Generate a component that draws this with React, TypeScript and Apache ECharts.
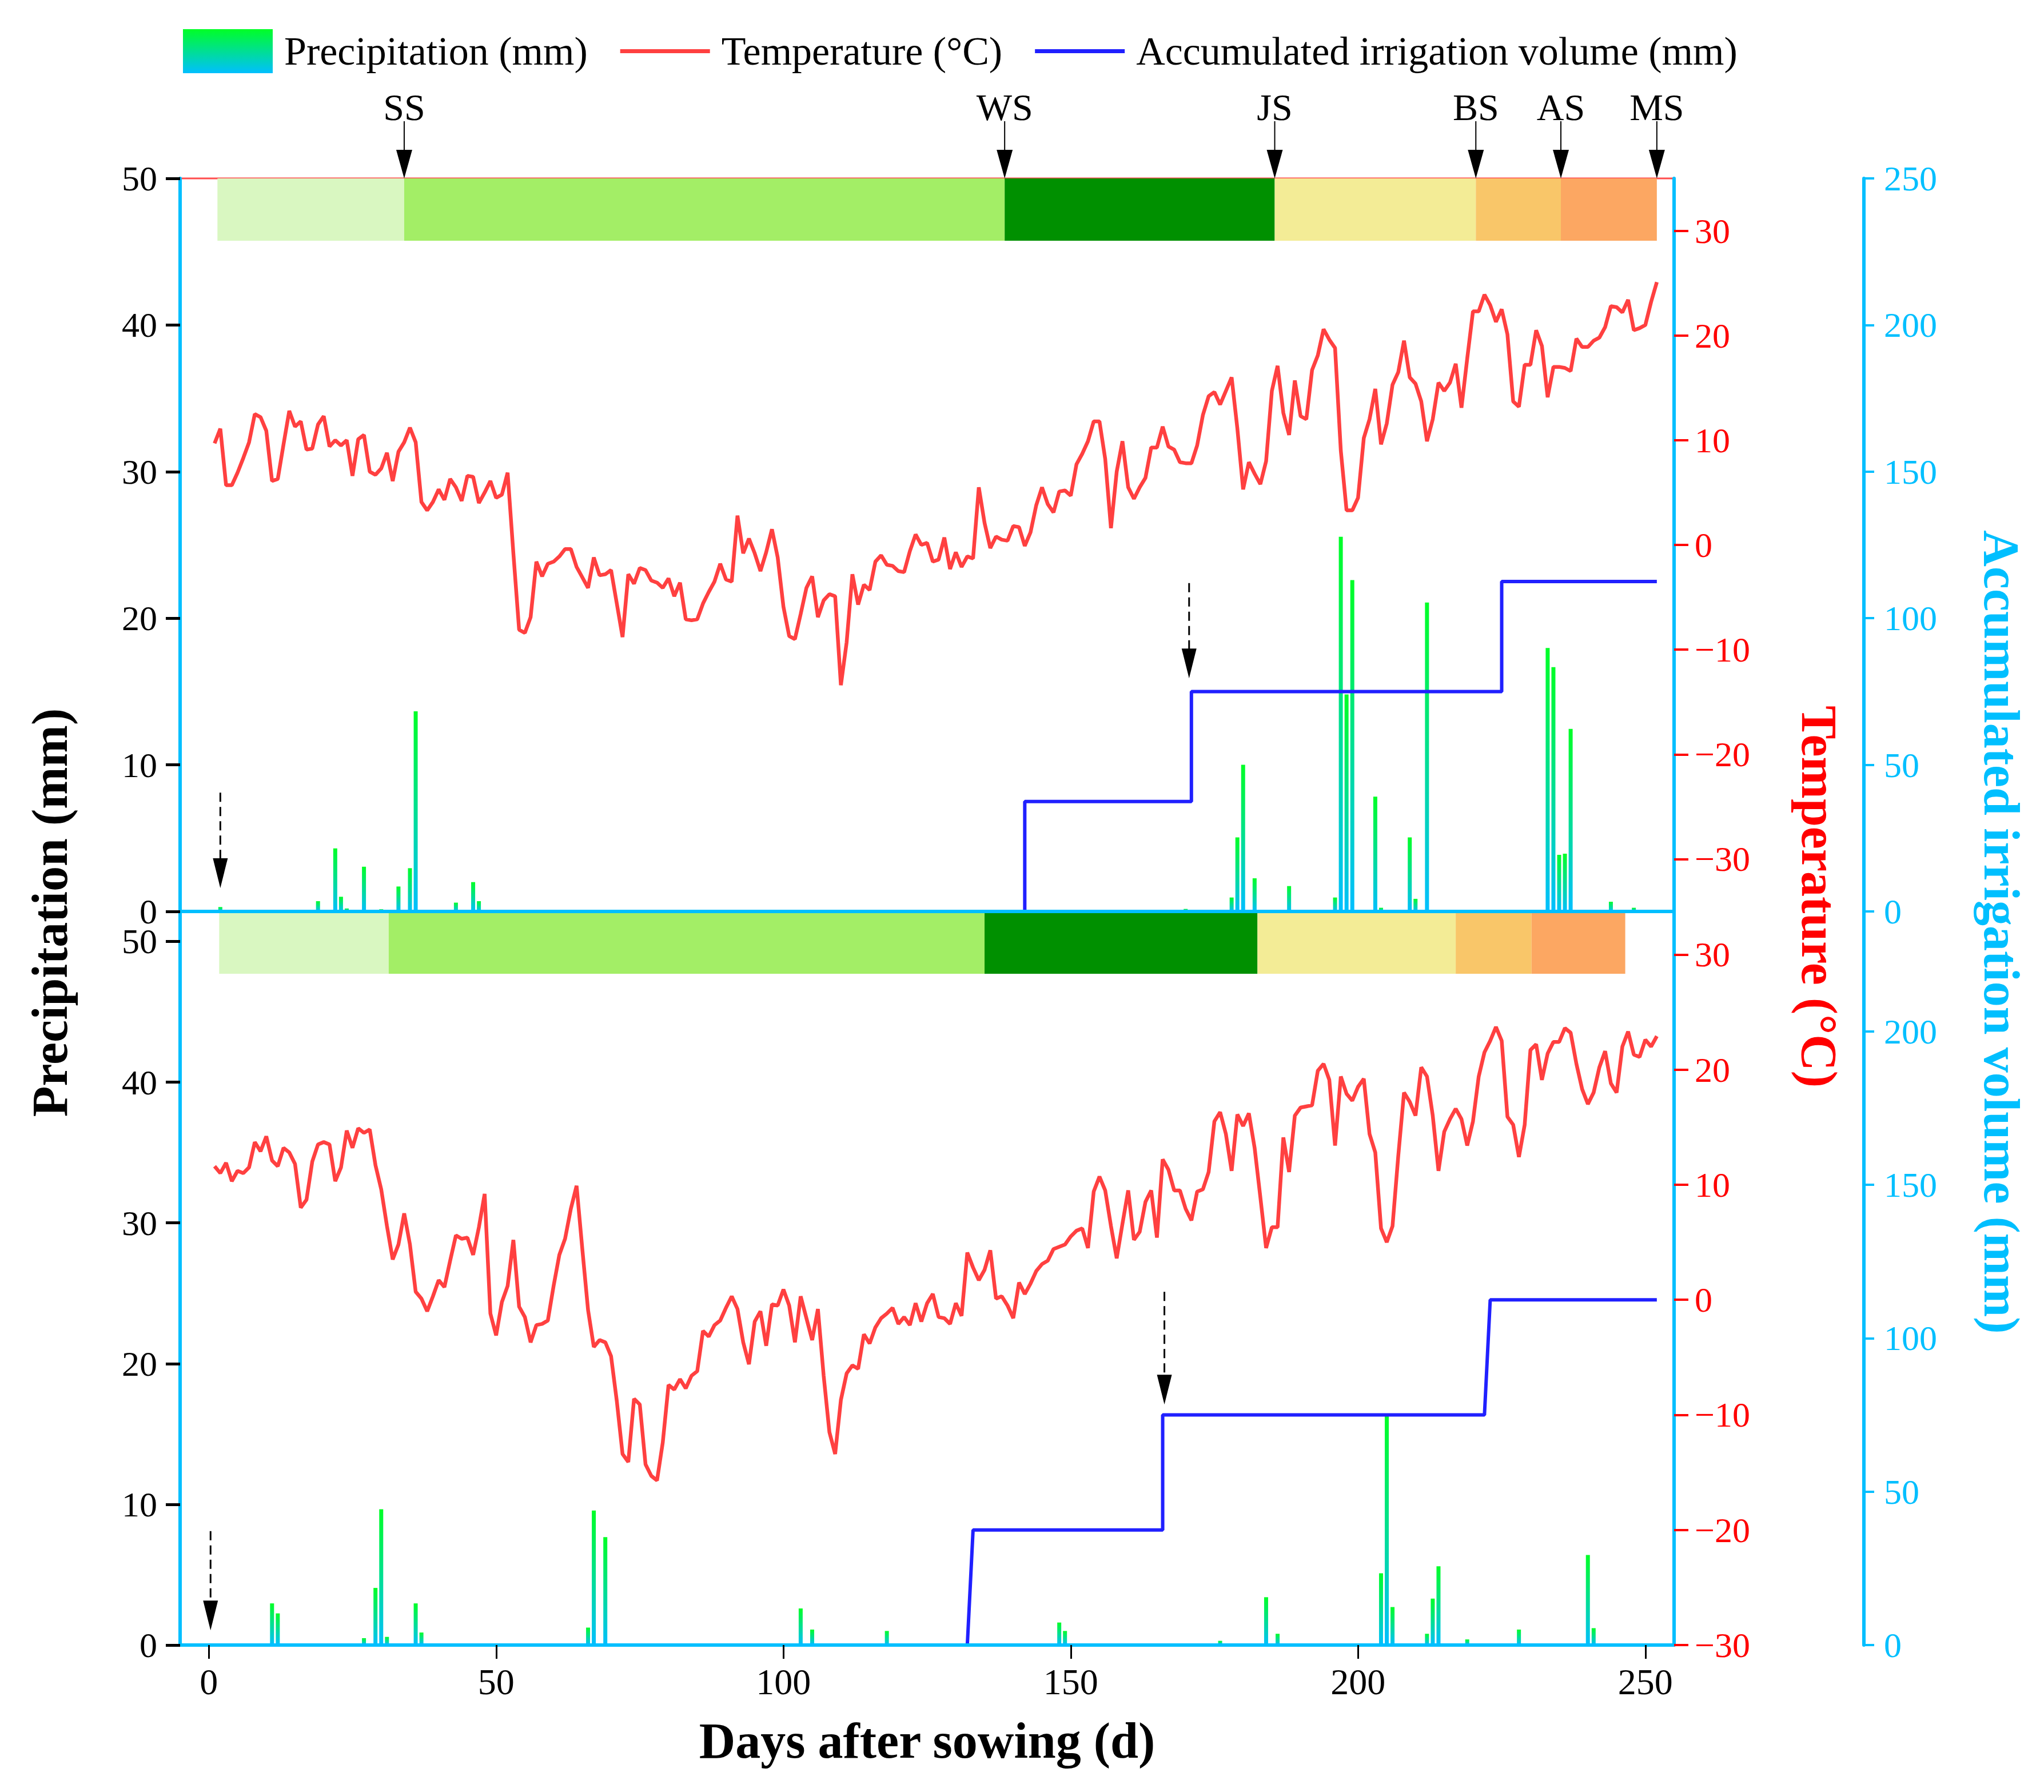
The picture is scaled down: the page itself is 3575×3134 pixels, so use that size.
import React, { useEffect, useRef } from 'react';
import * as echarts from 'echarts';

const FONT = "'Liberation Serif', 'Times New Roman', serif";

// daily mean temperature (°C), day 1..252, upper panel
const tempTop = [
  9.7, 11.1, 5.7, 5.7, 6.9, 8.3, 9.8, 12.5, 12.2, 10.9,
  6.1, 6.3, 9.6, 12.8, 11.3, 11.8, 9.1, 9.2, 11.5, 12.3,
  9.4, 10.0, 9.5, 10.0, 6.6, 10.1, 10.5, 7.0, 6.7, 7.3,
  8.8, 6.1, 8.9, 9.8, 11.2, 9.8, 4.1, 3.3, 4.1, 5.3,
  4.3, 6.3, 5.5, 4.2, 6.6, 6.5, 4.0, 5.0, 6.1, 4.5,
  4.8, 6.9, -0.8, -8.1, -8.4, -6.9, -1.6, -3.0, -1.8, -1.6,
  -1.1, -0.4, -0.4, -2.1, -3.1, -4.1, -1.2, -2.9, -2.8, -2.4,
  -5.6, -8.8, -2.8, -3.7, -2.2, -2.4, -3.4, -3.6, -4.1, -3.2,
  -4.9, -3.6, -7.1, -7.2, -7.1, -5.6, -4.5, -3.5, -1.8, -3.3,
  -3.5, 2.8, -0.8, 0.6, -0.8, -2.5, -0.7, 1.5, -1.2, -5.9,
  -8.7, -9.0, -6.6, -4.1, -3.0, -6.9, -5.3, -4.7, -4.9, -13.4,
  -9.3, -2.8, -5.7, -3.8, -4.3, -1.6, -1.0, -1.9, -2.0, -2.5,
  -2.6, -0.6, 1.0, 0.0, 0.2, -1.6, -1.4, 0.7, -2.3, -0.7,
  -2.1, -1.1, -1.3, 5.5, 2.1, -0.3, 0.8, 0.5, 0.4, 1.8,
  1.7, -0.1, 1.2, 3.8, 5.5, 3.9, 3.1, 5.1, 5.2, 4.7,
  7.7, 8.7, 9.9, 11.8, 11.8, 8.2, 1.6, 7.0, 9.9, 5.5,
  4.4, 5.5, 6.4, 9.3, 9.3, 11.3, 9.4, 9.1, 7.9, 7.8,
  7.8, 9.5, 12.4, 14.2, 14.6, 13.4, 14.7, 16.0, 11.1, 5.3,
  7.9, 6.8, 5.8, 8.0, 14.7, 17.1, 12.6, 10.5, 15.7, 12.3,
  12.0, 16.7, 18.1, 20.6, 19.6, 18.8, 9.0, 3.3, 3.3, 4.5,
  10.2, 12.0, 14.9, 9.6, 11.6, 15.3, 16.5, 19.5, 16.0, 15.4,
  13.7, 9.9, 12.0, 15.5, 14.7, 15.5, 17.3, 13.1, 17.8, 22.3,
  22.3, 23.9, 22.9, 21.3, 22.5, 20.1, 13.7, 13.2, 17.2, 17.2,
  20.5, 19.0, 14.1, 17.0, 17.0, 16.9, 16.6, 19.7, 18.9, 18.9,
  19.5, 19.8, 20.8, 22.8, 22.7, 22.2, 23.4, 20.5, 20.7, 21.0,
  23.2, 25.1,
];

// daily mean temperature (°C), day 1..252, lower panel
const tempBottom = [
  11.6, 11.0, 11.9, 10.3, 11.2, 11.0, 11.5, 13.7, 12.9, 14.2,
  12.1, 11.6, 13.2, 12.8, 11.8, 8.0, 8.7, 12.0, 13.5, 13.7,
  13.5, 10.3, 11.5, 14.7, 13.2, 14.9, 14.5, 14.8, 11.7, 9.6,
  6.4, 3.5, 4.8, 7.5, 4.8, 0.7, 0.1, -1.0, 0.3, 1.7,
  1.1, 3.4, 5.6, 5.3, 5.4, 3.9, 6.3, 9.2, -1.2, -3.1,
  -0.2, 1.2, 5.2, -0.6, -1.5, -3.7, -2.2, -2.1, -1.8, 1.2,
  3.9, 5.3, 7.9, 9.9, 4.4, -0.9, -4.1, -3.5, -3.7, -4.9,
  -8.8, -13.4, -14.1, -8.6, -9.1, -14.3, -15.3, -15.7, -12.4, -7.4,
  -7.8, -6.9, -7.7, -6.6, -6.2, -2.7, -3.2, -2.2, -1.8, -0.7,
  0.3, -0.8, -3.7, -5.6, -1.9, -1.0, -4.0, -0.4, -0.5, 0.9,
  -0.5, -3.7, 0.3, -1.6, -3.5, -0.8, -6.6, -11.5, -13.4, -8.7,
  -6.4, -5.7, -6.0, -3.0, -3.8, -2.4, -1.6, -1.2, -0.7, -2.1,
  -1.5, -2.2, -0.3, -1.9, -0.3, 0.5, -1.5, -1.6, -2.1, -0.3,
  -1.4, 4.1, 2.8, 1.7, 2.6, 4.3, 0.1, 0.3, -0.5, -1.6,
  1.5, 0.5, 1.4, 2.5, 3.1, 3.4, 4.4, 4.6, 4.8, 5.5,
  6.0, 6.2, 4.5, 9.4, 10.7, 9.5, 6.4, 3.6, 6.6, 9.5,
  5.2, 5.9, 8.5, 9.5, 5.4, 12.2, 11.3, 9.5, 9.5, 7.9,
  6.9, 9.4, 9.6, 11.1, 15.5, 16.3, 14.4, 11.2, 16.1, 15.1,
  16.2, 13.2, 8.9, 4.5, 6.3, 6.3, 14.1, 11.1, 16.0, 16.7,
  16.8, 16.9, 19.9, 20.5, 19.1, 13.4, 19.4, 17.9, 17.3, 18.5,
  19.2, 14.4, 12.8, 6.2, 5.0, 6.4, 12.5, 18.0, 17.2, 16.0,
  20.2, 19.4, 16.0, 11.2, 14.6, 15.7, 16.6, 15.7, 13.4, 15.5,
  19.4, 21.5, 22.5, 23.7, 22.5, 15.9, 15.2, 12.4, 15.2, 21.7,
  22.2, 19.1, 21.4, 22.4, 22.4, 23.6, 23.2, 20.5, 18.3, 17.0,
  18.0, 20.2, 21.6, 18.8, 18.0, 22.0, 23.3, 21.3, 21.1, 22.6,
  22.0, 22.9,
];

// [day, precipitation mm]
const precipTop = [
  [2, 0.3], [19, 0.7], [22, 4.3], [23, 1.0], [24, 0.2], [27, 3.05], [30, 0.15],
  [33, 1.7], [35, 2.95], [36, 13.65], [43, 0.6], [46, 2.0], [47, 0.7], [52, 0.1],
  [170, 0.17], [178, 0.95], [179, 5.05], [180, 10.0], [182, 2.26], [188, 1.73],
  [196, 0.95], [197, 25.56], [198, 14.8], [199, 22.6], [203, 7.83], [204, 0.25],
  [209, 5.05], [210, 0.86], [212, 21.07], [233, 17.97], [234, 16.66], [235, 3.86],
  [236, 3.94], [237, 12.45], [244, 0.66], [248, 0.25],
];
const precipBottom = [
  [11, 2.96], [12, 2.25], [27, 0.49], [29, 4.06], [30, 9.65], [31, 0.58], [36, 2.96],
  [37, 0.89], [40, 0.05], [43, 0.05], [44, 0.05], [51, 0.05], [65, 0.05], [66, 1.24],
  [67, 9.56], [69, 7.67], [95, 0.1], [103, 2.6], [105, 1.1], [118, 1.0], [148, 1.6],
  [149, 1.0], [176, 0.3], [184, 3.4], [186, 0.8], [204, 5.1], [205, 16.3], [206, 2.7],
  [212, 0.8], [213, 3.3], [214, 5.6], [219, 0.4], [228, 1.1], [240, 6.4], [241, 1.2],
];

// [day, accumulated irrigation mm]
const irrigTop = [
  [1, 0], [142, 0], [142, 37.5], [171, 37.5], [171, 75], [225, 75], [225, 112.5], [252, 112.5],
];
const irrigBottom = [
  [1, 0], [132, 0], [133, 37.5], [166, 37.5], [166, 75], [222, 75], [223, 112.5], [252, 112.5],
];

// growth stage boundaries (days)
const stageEdgesTop = [1.5, 34, 138.5, 185.5, 220.5, 235.3, 252];
const stageEdgesBottom = [1.8, 31.3, 135, 182.5, 217, 230.2, 246.5];
const stageColors = ['#D9F7C1', '#A3EE66', '#009000', '#F3EC96', '#F9C669', '#FCA762'];
const stageNames = ['SS', 'WS', 'JS', 'BS', 'AS', 'MS'];

// irrigation event arrows: [day, top of stem mm, tip mm]
const eventArrowsTop = [[2, 8.1, 1.6], [170.6, 22.4, 15.9]];
const eventArrowsBottom = [[0.3, 8.1, 1.05], [166.3, 25.1, 17.1]];

const dayTicks = [0, 50, 100, 150, 200, 250];
const precipTicks = [0, 10, 20, 30, 40, 50];
const tempTicks = [-30, -20, -10, 0, 10, 20, 30];
const irrigTicksTop = [0, 50, 100, 150, 200, 250];
const irrigTicksBottom = [0, 50, 100, 150, 200];

const CYAN = '#00BFFF';
const RED = '#FF0000';
const TEMP_LINE = '#FF4040';
const IRRIG_LINE = '#2020FF';
// thin horizontal bar spanning the legend icon box, used for the line series
const LINE_ICON = 'path://M0,0M0,77M0,35L157,35L157,42L0,42Z';

const pairs = (edges: number[]) => edges.slice(0, -1).map((e, i) => [e, edges[i + 1]]);

const bandRender = (params: any, api: any) => {
  const cs = params.coordSys;
  const x0 = api.coord([api.value(0), 0])[0];
  const x1 = api.coord([api.value(1), 0])[0];
  return {
    type: 'rect',
    shape: { x: x0, y: cs.y, width: x1 - x0, height: 109 },
    style: { fill: stageColors[params.dataIndex] },
  };
};

const stageRender = (params: any, api: any) => {
  const cs = params.coordSys;
  const x = api.coord([api.value(0), 0])[0];
  const tip = cs.y;
  return {
    type: 'group',
    children: [
      { type: 'line', shape: { x1: x, y1: tip - 100, x2: x, y2: tip - 45 }, style: { stroke: '#000', lineWidth: 2 } },
      { type: 'polygon', shape: { points: [[x - 14, tip - 50], [x + 14, tip - 50], [x, tip]] }, style: { fill: '#000' } },
      {
        type: 'text',
        x,
        y: tip - 125,
        style: { text: stageNames[params.dataIndex], font: `66px ${FONT}`, fill: '#000', align: 'center', verticalAlign: 'middle' },
      },
    ],
  };
};

const eventRender = (params: any, api: any) => {
  const p0 = api.coord([api.value(0), api.value(1)]);
  const p1 = api.coord([api.value(0), api.value(2)]);
  const head = 52;
  return {
    type: 'group',
    children: [
      { type: 'line', shape: { x1: p0[0], y1: p0[1], x2: p1[0], y2: p1[1] - head + 4 }, style: { stroke: '#000', lineWidth: 3, lineDash: [16, 9] } },
      { type: 'polygon', shape: { points: [[p1[0] - 13, p1[1] - head], [p1[0] + 13, p1[1] - head], [p1[0], p1[1]]] }, style: { fill: '#000' } },
    ],
  };
};

const minus = (v: number) => (v < 0 ? '\u2212' + Math.abs(v) : String(v));

const App: React.FC = () => {
  const chartRef = useRef<HTMLDivElement>(null);

  useEffect(() => {
    document.body.style.margin = '0';
    if (!chartRef.current) return;
    const chart = echarts.init(chartRef.current, null, { renderer: 'svg' });

    const barColor = new echarts.graphic.LinearGradient(0, 0, 0, 1, [
      { offset: 0, color: '#00FF26' },
      { offset: 1, color: CYAN },
    ]);

    const leftAxis = (gridIndex: number, max: number) => ({
      type: 'value', gridIndex, min: 0, max, position: 'left', z: 10,
      axisLine: { show: true, onZero: false, lineStyle: { color: CYAN, width: 6 } },
      axisTick: { show: true, length: 25, lineStyle: { color: '#000', width: 5 }, customValues: precipTicks },
      axisLabel: { color: '#000', fontSize: 62, fontFamily: FONT, margin: 40, customValues: precipTicks },
      splitLine: { show: false },
    });
    const tempAxis = (gridIndex: number, min: number, max: number) => ({
      type: 'value', gridIndex, min, max, position: 'right', z: 10,
      axisLine: { show: true, onZero: false, lineStyle: { color: CYAN, width: 6 } },
      axisTick: { show: true, length: 25, lineStyle: { color: RED, width: 4 }, customValues: tempTicks },
      axisLabel: { color: RED, fontSize: 62, fontFamily: FONT, margin: 36, customValues: tempTicks, formatter: minus },
      splitLine: { show: false },
    });
    const irrigAxis = (gridIndex: number, max: number, ticks: number[]) => ({
      type: 'value', gridIndex, min: 0, max, position: 'right', offset: 332, z: 10,
      axisLine: { show: true, onZero: false, lineStyle: { color: CYAN, width: 6 } },
      axisTick: { show: true, length: 18, lineStyle: { color: CYAN, width: 4 }, customValues: ticks },
      axisLabel: { color: CYAN, fontSize: 62, fontFamily: FONT, margin: 35, customValues: ticks },
      splitLine: { show: false },
    });

    const option = {
      animation: false,
      textStyle: { fontFamily: FONT },
      legend: {
        left: 315,
        top: 46,
        itemWidth: 157,
        itemHeight: 77,
        itemGap: 57,
        textStyle: { fontSize: 70, fontFamily: FONT, color: '#000', padding: [0, 0, 0, 15] },
        data: [
          { name: 'Precipitation (mm)', icon: 'rect' },
          { name: 'Temperature (°C)', icon: LINE_ICON, itemStyle: { color: TEMP_LINE } },
          { name: 'Accumulated irrigation volume (mm)', icon: LINE_ICON, itemStyle: { color: IRRIG_LINE } },
        ],
      },
      grid: [
        { left: 315, top: 312, width: 2613, height: 1282, show: true, borderColor: '#FF4D4D', borderWidth: 3, outerBoundsMode: 'none' },
        { left: 315, top: 1594, width: 2613, height: 1283, outerBoundsMode: 'none' },
      ],
      xAxis: [
        {
          type: 'value', gridIndex: 0, min: -5, max: 255, z: 10,
          axisLine: { show: true, onZero: false, lineStyle: { color: CYAN, width: 6 } },
          axisTick: { show: false }, axisLabel: { show: false }, splitLine: { show: false },
        },
        {
          type: 'value', gridIndex: 1, min: -5, max: 255, z: 10,
          name: 'Days after sowing (d)', nameLocation: 'middle', nameGap: 123,
          nameTextStyle: { fontSize: 88, fontWeight: 'bold', fontFamily: FONT, color: '#000' },
          axisLine: { show: true, onZero: false, lineStyle: { color: CYAN, width: 6 } },
          axisTick: { show: true, length: 24, lineStyle: { color: '#000', width: 3 }, customValues: dayTicks },
          axisLabel: { color: '#000', fontSize: 64, fontFamily: FONT, margin: 32, customValues: dayTicks },
          splitLine: { show: false },
        },
      ],
      yAxis: [
        leftAxis(0, 50),
        tempAxis(0, -35, 35),
        irrigAxis(0, 250, irrigTicksTop),
        leftAxis(1, 52.13),
        tempAxis(1, -30, 33.74),
        irrigAxis(1, 239.1, irrigTicksBottom),
      ],
      graphic: [
        {
          type: 'text', x: 87, y: 1596, rotation: Math.PI / 2,
          style: { text: 'Precipitation (mm)', font: `bold 88px ${FONT}`, fill: '#000', align: 'center', verticalAlign: 'middle' },
        },
        {
          type: 'text', x: 3181, y: 1568, rotation: -Math.PI / 2,
          style: { text: 'Temperature (°C)', font: `bold 88px ${FONT}`, fill: RED, align: 'center', verticalAlign: 'middle' },
        },
        {
          type: 'text', x: 3500, y: 1630, rotation: -Math.PI / 2,
          style: { text: 'Accumulated irrigation volume (mm)', font: `bold 88px ${FONT}`, fill: CYAN, align: 'center', verticalAlign: 'middle' },
        },
      ],
      series: [
        // upper panel
        { type: 'custom', xAxisIndex: 0, yAxisIndex: 0, renderItem: bandRender, data: pairs(stageEdgesTop), encode: { x: [0, 1] }, z: 1, silent: true },
        { name: 'Precipitation (mm)', type: 'bar', xAxisIndex: 0, yAxisIndex: 0, barWidth: 7, itemStyle: { color: barColor }, data: precipTop, z: 2 },
        { name: 'Accumulated irrigation volume (mm)', type: 'line', xAxisIndex: 0, yAxisIndex: 2, data: irrigTop, symbol: 'none', lineStyle: { color: IRRIG_LINE, width: 6 }, itemStyle: { color: IRRIG_LINE }, z: 3 },
        { name: 'Temperature (°C)', type: 'line', xAxisIndex: 0, yAxisIndex: 1, data: tempTop.map((t, i) => [i + 1, t]), symbol: 'none', lineStyle: { color: TEMP_LINE, width: 6.5 }, itemStyle: { color: TEMP_LINE }, z: 4 },
        { type: 'custom', xAxisIndex: 0, yAxisIndex: 0, renderItem: stageRender, data: stageEdgesTop.slice(1).map((d) => [d, 50]), encode: { x: 0, y: 1 }, z: 5, silent: true },
        { type: 'custom', xAxisIndex: 0, yAxisIndex: 0, renderItem: eventRender, data: eventArrowsTop, encode: { x: 0, y: [1, 2] }, z: 5, silent: true },
        // lower panel
        { type: 'custom', xAxisIndex: 1, yAxisIndex: 3, renderItem: bandRender, data: pairs(stageEdgesBottom), encode: { x: [0, 1] }, z: 1, silent: true },
        { name: 'Precipitation (mm)', type: 'bar', xAxisIndex: 1, yAxisIndex: 3, barWidth: 7, itemStyle: { color: barColor }, data: precipBottom, z: 2 },
        { name: 'Accumulated irrigation volume (mm)', type: 'line', xAxisIndex: 1, yAxisIndex: 5, data: irrigBottom, symbol: 'none', lineStyle: { color: IRRIG_LINE, width: 6 }, itemStyle: { color: IRRIG_LINE }, z: 3 },
        { name: 'Temperature (°C)', type: 'line', xAxisIndex: 1, yAxisIndex: 4, data: tempBottom.map((t, i) => [i + 1, t]), symbol: 'none', lineStyle: { color: TEMP_LINE, width: 6.5 }, itemStyle: { color: TEMP_LINE }, z: 4 },
        { type: 'custom', xAxisIndex: 1, yAxisIndex: 3, renderItem: eventRender, data: eventArrowsBottom, encode: { x: 0, y: [1, 2] }, z: 5, silent: true },
      ],
    };

    chart.setOption(option as any);
    return () => {
      chart.dispose();
    };
  }, []);

  return <div ref={chartRef} style={{ width: '3575px', height: '3134px' }} />;
};

export default App;
